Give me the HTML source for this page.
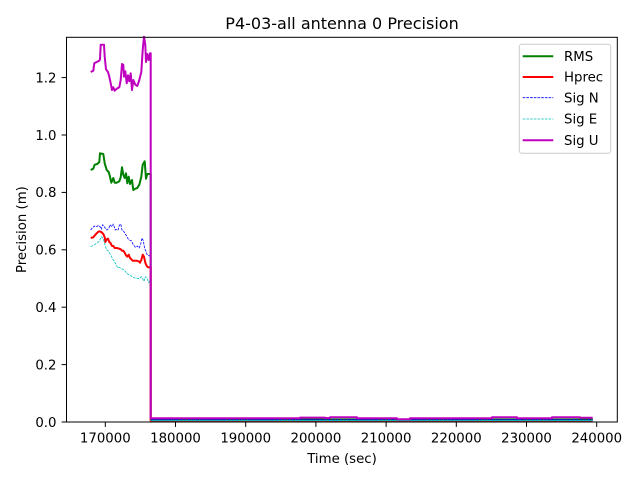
<!DOCTYPE html>
<html><head><meta charset="utf-8"><style>
html,body{margin:0;padding:0;background:#fff;}
svg{display:block;font-family:"DejaVu Sans","Liberation Sans",sans-serif;}
</style></head><body>
<svg width="640" height="480" viewBox="0 0 640 480" xmlns="http://www.w3.org/2000/svg">
<rect width="640" height="480" fill="#fff"/>
<text x="342" y="29" font-size="16" text-anchor="middle" fill="#000">P4-03-all antenna 0 Precision</text>

<g fill="none" stroke-linejoin="round">
<!-- RMS -->
<polyline stroke="#008000" stroke-width="2" points="90.7,170 93.3,168.7 94.7,164.7 97.3,164 99.3,162 100,153.3 103.3,154 104.7,163.3 106.7,170 108.7,172 110,176.7 111.3,182.7 113.3,178 114.7,182.7 116.7,182.7 119.3,181.3 120.7,177.3 122,167.3 123.3,174.7 124.7,178 126,173.3 127.3,183.3 128.7,176.7 130,184 132,180 133.3,190 135.3,188.7 137.3,188 139.3,184.7 141.3,176.7 142.7,164.7 144.7,161.3 146,178.7 147.3,174 150,174 150.7,174 150.7,419.5 592.7,419.5"/>
<!-- Hprec -->
<polyline stroke="#ff0000" stroke-width="2" points="90.7,238 93.3,237.3 96,234 98,232 99.3,231.3 101.3,232 103.3,234 104.7,237.3 105.3,242 106.7,239.3 108,238.7 109.3,242 110.7,243.3 112,246 113.3,246 114.7,248 116.7,248 119.3,248.7 120.7,249.3 122,250.7 123.3,250.7 124.7,252.7 126,255.3 127.3,256.7 128.7,254.7 130,258 131.3,259.3 132.7,260.7 136.7,260.7 138.7,261.3 140,262.7 141.3,260 142.7,254.7 144,256.7 145.3,262.7 146.7,266 148,267.3 150,267.3 150.7,267.3 150.7,421 592.7,421"/>
<!-- Sig N -->
<polyline stroke="#0000ff" stroke-width="0.8" stroke-dasharray="2.6 1.1" points="90.7,230 92.7,227.3 94.7,226 96.7,226.7 98.7,225.3 100,226.7 101.3,229.3 102.7,224.7 104.7,227.3 106.7,230 108.7,228.7 110,224.7 112,226.7 113.3,224 115.3,230 116.7,229.3 118,230 119.3,225.3 120.7,224 122,230 123.3,230.7 125.3,234 126.7,236 128,238.7 129.3,240 131.3,240.7 133.3,244.7 135.3,247.3 137.3,246 139.3,248 140.7,244 142,238 143.3,240.7 144.7,248.7 146,251.3 147.3,255.3 150,256 150.7,256 150.7,419.8 592.7,419.8"/>
<!-- Sig E -->
<polyline stroke="#00bfbf" stroke-width="0.8" stroke-dasharray="2.6 1.1" points="90.7,246.5 92,246 94.7,244.7 97.3,242.7 99.3,241.3 101.3,236.7 103.3,238.7 105.3,246 106.7,250 108.7,251.3 110,254 111.3,256 112.7,259.3 114,260.7 115.3,263.3 118,268 119.3,267.3 121.3,268.7 123.3,269.3 125.3,271.3 126.7,273.3 128.7,274.7 130.7,275.3 132.7,277.3 134.7,278 139.3,278.7 141.3,276.7 142.7,278.7 144,281.3 145.3,276.7 147.3,278.7 148.7,282.7 150,280 150.7,280 150.7,420.6 592.7,420.6"/>
<line x1="152" y1="420.6" x2="592.7" y2="420.6" stroke="#00bfbf" stroke-width="1"/>
<line x1="152" y1="419.7" x2="592.7" y2="419.7" stroke="#0000ff" stroke-width="0.6" stroke-dasharray="2 2"/>
<!-- Sig U -->
<polyline stroke="#bf00bf" stroke-width="2" points="90.7,72 93.3,70.7 94.3,63.3 96.7,62 99.3,60.7 100,59.3 100.7,44.7 104,44.7 104.7,56.7 106,69.3 108,72 109.3,76.7 110.7,83.3 112,90 113.3,87.3 114.7,90.7 116.7,88.7 119.3,87.3 120.7,80 122,64 123.3,64.7 124,76.7 125.3,71.3 126.7,83.3 128,75.3 129.3,81.3 130.7,73.3 132,90 133.3,80 135.3,84.7 137.3,86 139.3,80 141.3,72 142.7,50 144,36.7 145.3,44.7 146,62 147.3,54 148.7,60 150,53.3 150.7,53.3 150.7,418.3 300,418.3 300,417.6 325,417.6 325,418 330,418 330,417.3 357,417.3 357,418.3 397,418.3 397,419.3 410,419.3 410,418.3 492,418.3 492,417.3 517,417.3 517,418.3 552,418.3 552,417.3 580,417.3 580,417.8 592.7,417.8"/>
</g>

<!-- axes spines -->
<rect x="66.5" y="37.3" width="550.8" height="384.7" fill="none" stroke="#000" stroke-width="1"/>

<!-- y ticks -->
<g stroke="#000" stroke-width="1">
<line x1="61.6" y1="422" x2="66.5" y2="422"/>
<line x1="61.6" y1="364.6" x2="66.5" y2="364.6"/>
<line x1="61.6" y1="307.2" x2="66.5" y2="307.2"/>
<line x1="61.6" y1="249.8" x2="66.5" y2="249.8"/>
<line x1="61.6" y1="192.4" x2="66.5" y2="192.4"/>
<line x1="61.6" y1="135" x2="66.5" y2="135"/>
<line x1="61.6" y1="77.6" x2="66.5" y2="77.6"/>
</g>
<g font-size="13.3" text-anchor="end" fill="#000">
<text x="56.5" y="426.8">0.0</text>
<text x="56.5" y="369.4">0.2</text>
<text x="56.5" y="312">0.4</text>
<text x="56.5" y="254.6">0.6</text>
<text x="56.5" y="197.2">0.8</text>
<text x="56.5" y="139.8">1.0</text>
<text x="56.5" y="82.4">1.2</text>
</g>

<!-- x ticks -->
<g stroke="#000" stroke-width="1">
<line x1="105.3" y1="422" x2="105.3" y2="426.9"/>
<line x1="175.5" y1="422" x2="175.5" y2="426.9"/>
<line x1="245.7" y1="422" x2="245.7" y2="426.9"/>
<line x1="315.9" y1="422" x2="315.9" y2="426.9"/>
<line x1="386.1" y1="422" x2="386.1" y2="426.9"/>
<line x1="456.3" y1="422" x2="456.3" y2="426.9"/>
<line x1="526.5" y1="422" x2="526.5" y2="426.9"/>
<line x1="596.7" y1="422" x2="596.7" y2="426.9"/>
</g>
<g font-size="13.3" text-anchor="middle" fill="#000">
<text x="105.3" y="442.5">170000</text>
<text x="175.5" y="442.5">180000</text>
<text x="245.7" y="442.5">190000</text>
<text x="315.9" y="442.5">200000</text>
<text x="386.1" y="442.5">210000</text>
<text x="456.3" y="442.5">220000</text>
<text x="526.5" y="442.5">230000</text>
<text x="596.7" y="442.5">240000</text>
</g>

<text x="342" y="463" font-size="13.3" text-anchor="middle" fill="#000">Time (sec)</text>
<text transform="translate(26,229.6) rotate(-90)" font-size="13.3" text-anchor="middle" fill="#000">Precision (m)</text>

<!-- legend -->
<rect x="519.3" y="44.3" width="91.4" height="109" rx="2.5" ry="2.5" fill="#fff" fill-opacity="0.8" stroke="#cccccc" stroke-width="1"/>
<g fill="none">
<line x1="522.7" y1="56.3" x2="553.3" y2="56.3" stroke="#008000" stroke-width="2"/>
<line x1="522.7" y1="77" x2="553.3" y2="77" stroke="#ff0000" stroke-width="2"/>
<line x1="522.7" y1="97.7" x2="553.3" y2="97.7" stroke="#0000ff" stroke-width="0.8" stroke-dasharray="2.6 1.1"/>
<line x1="522.7" y1="119" x2="553.3" y2="119" stroke="#00bfbf" stroke-width="0.8" stroke-dasharray="2.6 1.1"/>
<line x1="522.7" y1="140.3" x2="553.3" y2="140.3" stroke="#bf00bf" stroke-width="2"/>
</g>
<g font-size="13.3" fill="#000">
<text x="564" y="61">RMS</text>
<text x="564" y="81.7">Hprec</text>
<text x="564" y="102.4">Sig N</text>
<text x="564" y="123.7">Sig E</text>
<text x="564" y="145">Sig U</text>
</g>
</svg>
</body></html>
